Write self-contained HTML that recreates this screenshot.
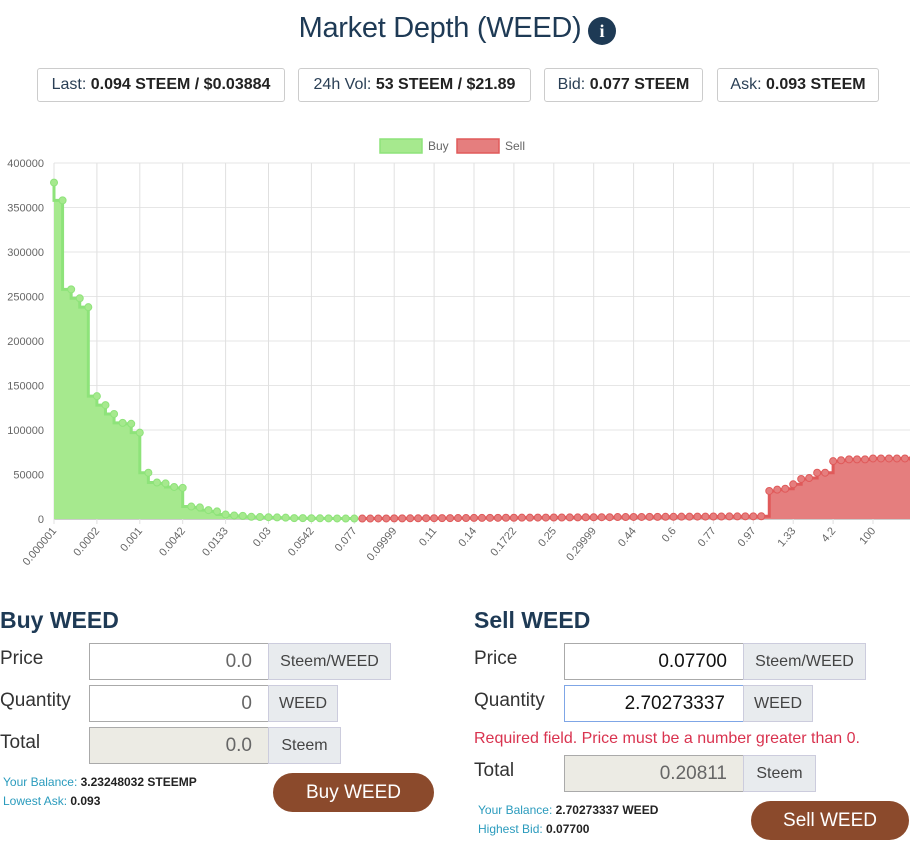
<!DOCTYPE html>
<html><head><meta charset="utf-8">
<style>
body{margin:0;width:910px;height:849px;overflow:hidden;background:#fff;font-family:"Liberation Sans",sans-serif;position:relative;color:#333}
.a{position:absolute}
.title{left:0;width:880px;top:12px;text-align:center;font-size:29px;color:#1e3a55;letter-spacing:-0.3px}
.info{left:588px;top:17px;width:28px;height:28px;border-radius:50%;background:#1e3a55;color:#fff;font:bold 18px "Liberation Serif",serif;text-align:center;line-height:28px}
.box{top:68px;height:32px;border:1px solid #ccc;border-radius:3px;font-size:16px;line-height:32px;text-align:center;color:#333}
.box span{color:#2a3f55}
.box b{font-weight:bold;color:#222}
.h{font-size:23px;font-weight:bold;color:#1e3a55}
.lbl{font-size:19px;color:#333}
.inp{height:35px;border:1px solid #aaa;background:#fff;font-size:19px;line-height:35px;text-align:right;padding-right:16px;box-sizing:border-box;color:#666}
.add{height:37px;background:#e8ebee;border:1px solid #ccd;font-size:16px;line-height:35px;text-align:center;box-sizing:border-box;color:#444}
.small{font-size:12px;color:#2a9bbd}
.small b{color:#222;font-weight:bold}
.btn{background:#8b4a2c;color:#fff;border-radius:20px;font-size:19px;text-align:center;line-height:39px;height:39px}
</style></head><body>
<div class="a title">Market Depth (WEED)</div>
<div class="a info">i</div>
<div class="a box" style="left:37px;width:246px"><span>Last:</span> <b>0.094 STEEM / $0.03884</b></div>
<div class="a box" style="left:298px;width:231px"><span>24h Vol:</span> <b>53 STEEM / $21.89</b></div>
<div class="a box" style="left:544px;width:157px"><span>Bid:</span> <b>0.077 STEEM</b></div>
<div class="a box" style="left:717px;width:160px"><span>Ask:</span> <b>0.093 STEEM</b></div>

<svg class="a" style="left:0;top:130px" width="910" height="460" id="chart"></svg>

<div class="a h" style="left:0;top:607px">Buy WEED</div>
<div class="a lbl" style="left:0;top:648px">Price</div>
<div class="a inp" style="left:89px;top:643px;width:180px;height:37px">0.0</div>
<div class="a add" style="left:268px;top:643px;width:123px">Steem/WEED</div>
<div class="a lbl" style="left:0;top:690px">Quantity</div>
<div class="a inp" style="left:89px;top:685px;width:180px;height:37px">0</div>
<div class="a add" style="left:268px;top:685px;width:70px">WEED</div>
<div class="a lbl" style="left:0;top:732px">Total</div>
<div class="a inp" style="left:89px;top:727px;width:180px;height:37px;background:#ecebe4">0.0</div>
<div class="a add" style="left:268px;top:727px;width:73px">Steem</div>
<div class="a small" style="left:3px;top:775px">Your Balance: <b>3.23248032 STEEMP</b></div>
<div class="a small" style="left:3px;top:794px">Lowest Ask: <b>0.093</b></div>
<div class="a btn" style="left:273px;top:773px;width:161px">Buy WEED</div>

<div class="a h" style="left:474px;top:607px">Sell WEED</div>
<div class="a lbl" style="left:474px;top:648px">Price</div>
<div class="a inp" style="left:564px;top:643px;width:180px;height:37px;color:#111">0.07700</div>
<div class="a add" style="left:743px;top:643px;width:123px">Steem/WEED</div>
<div class="a lbl" style="left:474px;top:690px">Quantity</div>
<div class="a inp" style="left:564px;top:685px;width:180px;height:37px;color:#111;border-color:#7fa6e6;padding-right:18px">2.70273337</div>
<div class="a add" style="left:743px;top:685px;width:70px">WEED</div>
<div class="a" style="left:474px;top:730px;font-size:16px;color:#d9334f">Required field. Price must be a number greater than 0.</div>
<div class="a lbl" style="left:474px;top:760px">Total</div>
<div class="a inp" style="left:564px;top:755px;width:180px;height:37px;background:#ecebe4">0.20811</div>
<div class="a add" style="left:743px;top:755px;width:73px">Steem</div>
<div class="a small" style="left:478px;top:803px">Your Balance: <b>2.70273337 WEED</b></div>
<div class="a small" style="left:478px;top:822px">Highest Bid: <b>0.07700</b></div>
<div class="a btn" style="left:751px;top:801px;width:158px">Sell WEED</div>

<script>
const buyValues=[378000,358000,258000,248000,238000,138000,128000,118000,108000,107000,97000,52000,41000,40000,36000,35000,14000,13000,10000,8500,5000,4000,3500,2500,2200,2000,1800,1500,1000,1000,900,800,700,600,500,500];
const sellValues=[500,500,600,600,700,700,800,800,900,900,1000,1000,1100,1100,1200,1200,1300,1300,1400,1400,1500,1500,1600,1600,1700,1700,1800,1800,1900,1900,2000,2000,2200,2200,2300,2300,2400,2400,2500,2500,2600,2600,2700,2700,2800,2800,2900,2900,3000,3000,3100,31500,33000,34000,39000,45000,46000,52000,52000,65000,66000,67000,67000,67000,68000,68000,68000,68000,68000,68000];
const xTickLabels=["0.000001","0.0002","0.001","0.0042","0.0133","0.03","0.0542","0.077","0.09999","0.11","0.14","0.1722","0.25","0.29999","0.44","0.6","0.77","0.97","1.33","4.2","100"];
const yTicks=[0,50000,100000,150000,200000,250000,300000,350000,400000];
const legendLabels=["Buy","Sell"];

const svg=document.getElementById('chart');
const NS='http://www.w3.org/2000/svg';
const OY=130;
const nBuy=buyValues.length;
function xs(i){return i<nBuy? 54+i*8.58 : 54+(nBuy-1)*8.58+(i-nBuy+1)*7.98;}
function ys(v){return 519-OY-v/400000*356;}
function mk(tag,attrs){const e=document.createElementNS(NS,tag);for(const k in attrs)e.setAttribute(k,attrs[k]);svg.appendChild(e);return e;}
const total=nBuy+sellValues.length;
yTicks.forEach(v=>{
  const l=mk('line',{x1:54,x2:910,y1:ys(v),y2:ys(v),stroke:v===0?'#ccc':'#e6e6e6','stroke-width':v===0?2:1});
  
  
  const t=mk('text',{x:44,y:ys(v)+4,'text-anchor':'end','font-size':11,fill:'#666','font-family':'Liberation Sans,sans-serif'});
  t.textContent=v;
  
  
});
xTickLabels.forEach((lab,k)=>{
  const x=xs(k*5);
  const l=mk('line',{x1:x,x2:x,y1:ys(400000),y2:ys(0)+5,stroke:'#e0e0e0'});
  
  
  const t=mk('text',{x:x+3,y:ys(0)+12,'text-anchor':'end','font-size':11,fill:'#666','font-family':'Liberation Sans,sans-serif',transform:`rotate(-50 ${x+3} ${ys(0)+12})`});
  t.textContent=lab;
  
  
});
let d=`M${xs(0)},${ys(buyValues[0])}`;
for(let i=1;i<nBuy;i++){d+=` L${xs(i-1)},${ys(buyValues[i])} L${xs(i)},${ys(buyValues[i])}`;}
const ba=mk('path',{d:d+` L${xs(nBuy-1)},${ys(0)} L${xs(0)},${ys(0)} Z`,fill:'#a6e98e'});


const bl=mk('path',{d:d,fill:'none',stroke:'#8ee37a','stroke-width':3});


buyValues.forEach((v,i)=>{
  const c=mk('circle',{cx:xs(i),cy:ys(v),r:3.5,fill:'#a6e98e',stroke:'#8ee37a'});
  
  
});
let s=`M${xs(nBuy)},${ys(sellValues[0])}`;
for(let j=1;j<sellValues.length;j++){s+=` L${xs(nBuy+j)},${ys(sellValues[j-1])} L${xs(nBuy+j)},${ys(sellValues[j])}`;}
const sa=mk('path',{d:s+` L${xs(total-1)},${ys(0)} L${xs(nBuy)},${ys(0)} Z`,fill:'#e57e7e'});


const sl=mk('path',{d:s,fill:'none',stroke:'#e05a5a','stroke-width':3});


sellValues.forEach((v,j)=>{
  const c=mk('circle',{cx:xs(nBuy+j),cy:ys(v),r:3.5,fill:'#e57e7e',stroke:'#e05a5a'});
  
  
});
const lc=[['#a6e98e','#8ee37a',380],['#e57e7e','#e05a5a',457]];
legendLabels.forEach((lab,k)=>{
  const r=mk('rect',{x:lc[k][2],y:9,width:42,height:14,fill:lc[k][0],stroke:lc[k][1],'stroke-width':1.5});
  
  
  const t=mk('text',{x:lc[k][2]+48,y:20,'font-size':12,fill:'#666','font-family':'Liberation Sans,sans-serif'});
  t.textContent=lab;
  
  
});
</script>
</body></html>
